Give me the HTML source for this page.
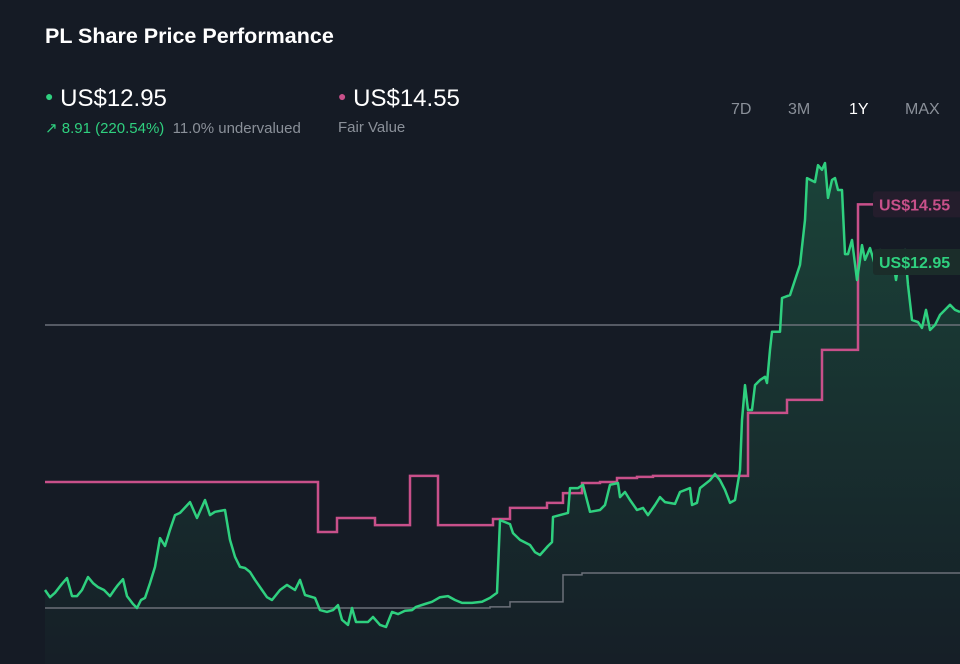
<!DOCTYPE html>
<html><head><meta charset="utf-8">
<style>
body{margin:0;background:#151b25;width:960px;height:664px;overflow:hidden;font-family:"Liberation Sans",sans-serif}
.t{position:absolute;white-space:nowrap}
</style></head>
<body>
<div style="position:relative;width:960px;height:664px">
<div class="t" style="left:45px;top:24px;font-size:21.5px;font-weight:bold;color:#fff">PL Share Price Performance</div>
<div class="t" style="left:45px;top:85px;font-size:24px;color:#fff"><span style="color:#2fd07f;font-size:14px;vertical-align:5px">●</span> US$12.95</div>
<div class="t" style="left:45px;top:119px;font-size:15px;color:#2fd07f">↗ 8.91 (220.54%) <span style="color:#8a9099">&nbsp;11.0% undervalued</span></div>
<div class="t" style="left:338px;top:85px;font-size:24px;color:#fff"><span style="color:#c8508a;font-size:14px;vertical-align:5px">●</span> US$14.55</div>
<div class="t" style="left:338px;top:119px;font-size:15px;color:#8a9099">Fair Value</div>
<div class="t" style="left:731px;top:101px;font-size:16px;color:#8a9099">7D</div>
<div class="t" style="left:788px;top:101px;font-size:16px;color:#8a9099">3M</div>
<div class="t" style="left:849px;top:101px;font-size:16px;color:#fff">1Y</div>
<div class="t" style="left:905px;top:101px;font-size:16px;color:#8a9099">MAX</div>
<svg id="chart" width="960" height="664" style="position:absolute;left:0;top:0">
<defs><linearGradient id="gf" x1="0" y1="0" x2="0" y2="1"><stop offset="0" stop-color="#2fd07f" stop-opacity="0.22"/><stop offset="1" stop-color="#2fd07f" stop-opacity="0.02"/></linearGradient></defs>
</svg>
</div>
<script>
const priceDays=[0,5,10,17,22,27,32,37,43,48,53,59,65,70,73,78,82,88,92,96,100,105,110,115,120,125,130,135,145,152,160,165,170,180,185,190,195,200,205,210,217,222,227,235,242,250,255,260,270,275,282,288,293,297,303,307,311,317,323,328,335,341,347,353,360,367,371,380,387,395,403,410,417,427,437,445,452,455,465,468,475,485,490,495,503,507,508,515,523,525,533,538,545,555,560,565,573,575,580,585,592,598,603,610,615,620,630,635,645,647,652,655,665,670,675,680,685,690,695,697,700,703,707,710,715,720,722,725,727,735,737,745,750,755,760,762,770,773,777,780,783,787,790,793,797,800,803,807,812,815,817,820,825,830,835,837,840,845,848,851,855,860,863,867,873,877,881,885,890,895,900,905,910,915];
const priceValues=[3.84,3.64,3.76,4.01,4.17,3.67,3.67,3.84,4.20,4.03,3.92,3.84,3.67,3.87,3.98,4.14,3.67,3.45,3.34,3.56,3.62,4.03,4.48,5.28,5.06,5.51,5.92,5.98,6.28,5.84,6.34,5.92,6.01,6.06,5.23,4.76,4.48,4.45,4.34,4.12,3.84,3.64,3.56,3.84,3.98,3.84,4.12,3.70,3.62,3.28,3.23,3.28,3.42,3.01,2.87,3.34,2.95,2.95,2.95,3.09,2.87,2.81,3.23,3.17,3.26,3.28,3.37,3.45,3.51,3.64,3.67,3.56,3.48,3.48,3.51,3.62,3.76,5.78,5.67,5.42,5.23,5.09,4.89,4.81,5.06,5.17,5.87,5.92,5.98,6.67,6.67,6.76,6.01,6.06,6.20,6.76,6.81,6.42,6.56,6.34,6.06,6.12,5.92,6.20,6.42,6.28,6.23,6.56,6.67,6.20,6.26,6.67,6.89,7.06,6.89,6.62,6.26,6.34,7.17,8.56,9.53,8.84,8.84,9.53,9.67,9.76,9.59,10.51,11.01,11.01,11.95,12.03,12.45,12.87,14.12,15.28,15.17,15.64,15.51,15.70,14.73,15.23,15.28,14.95,14.95,13.17,13.17,13.56,12.45,13.01,13.42,13.01,13.34,12.87,13.28,12.87,13.17,12.78,13.01,12.45,13.17,13.28,12.31,11.34,11.28,11.12,11.62,11.06,11.20,11.48,11.62,11.76,11.62,11.56];
const fairDays=[0,273,292,330,365,393,448,465,502,518,537,555,572,592,608,703,742,777,813];
const fairValues=[6.84,5.45,5.84,5.64,7.01,5.64,5.81,6.12,6.26,6.53,6.81,6.84,6.95,6.98,7.01,8.76,9.12,10.51,14.55];
const lowDays=[0,445,465,518,537];
const lowValues=[3.34,3.37,3.51,4.26,4.31];
const refValue=11.20;
const lastPrice=12.95, lastFair=14.55;

const X0=45,X1=960,D1=915;
const xs=d=>X0+(d/D1)*(X1-X0);
const ys=p=>728.2-p*36;
const svg=document.getElementById('chart');
const NS='http://www.w3.org/2000/svg';
function mk(tag,attrs){const e=document.createElementNS(NS,tag);for(const k in attrs)e.setAttribute(k,attrs[k]);svg.appendChild(e);return e;}
function stepPath(days,vals){let d='';for(let i=0;i<days.length;i++){const x=xs(days[i]),y=ys(vals[i]);if(i===0)d+='M'+x+','+y;else d+='V'+y;const nx=i<days.length-1?xs(days[i+1]):X1;d+='H'+nx;}return d;}

const n=Math.min(priceDays.length,priceValues.length);
let lp='';
for(let i=0;i<n;i++){lp+=(i?'L':'M')+xs(priceDays[i]).toFixed(1)+','+ys(priceValues[i]).toFixed(1);}
const area=mk('path',{d:lp+'L'+xs(priceDays[n-1]).toFixed(1)+',664L'+xs(priceDays[0]).toFixed(1)+',664Z',fill:'url(#gf)'});


const ref=mk('line',{x1:X0,x2:X1,y1:ys(refValue),y2:ys(refValue),stroke:'#6b7079','stroke-width':1.5});


const low=mk('path',{d:stepPath(lowDays,lowValues),fill:'none',stroke:'#6b7079','stroke-width':1.5});


const fair=mk('path',{d:stepPath(fairDays,fairValues),fill:'none',stroke:'#c8508a','stroke-width':2.5});


const pl=mk('path',{d:lp,fill:'none',stroke:'#2fd07f','stroke-width':2.5,'stroke-linejoin':'round'});



function tag(val,color,bg,name){const y=ys(val);
 const r=mk('rect',{x:873,y:y-13,width:95,height:26,rx:3,fill:bg});
 
 
 const t=mk('text',{x:879,y:y+6,fill:color,'font-size':16,'font-weight':'bold','font-family':'Liberation Sans, sans-serif'});
 t.textContent='US$'+val.toFixed(2);
 
 }
tag(lastFair,'#c8508a','#241d2c','fair-value-tag');
tag(lastPrice,'#2fd07f','#1b2d2a','price-tag');
</script>
</body></html>
